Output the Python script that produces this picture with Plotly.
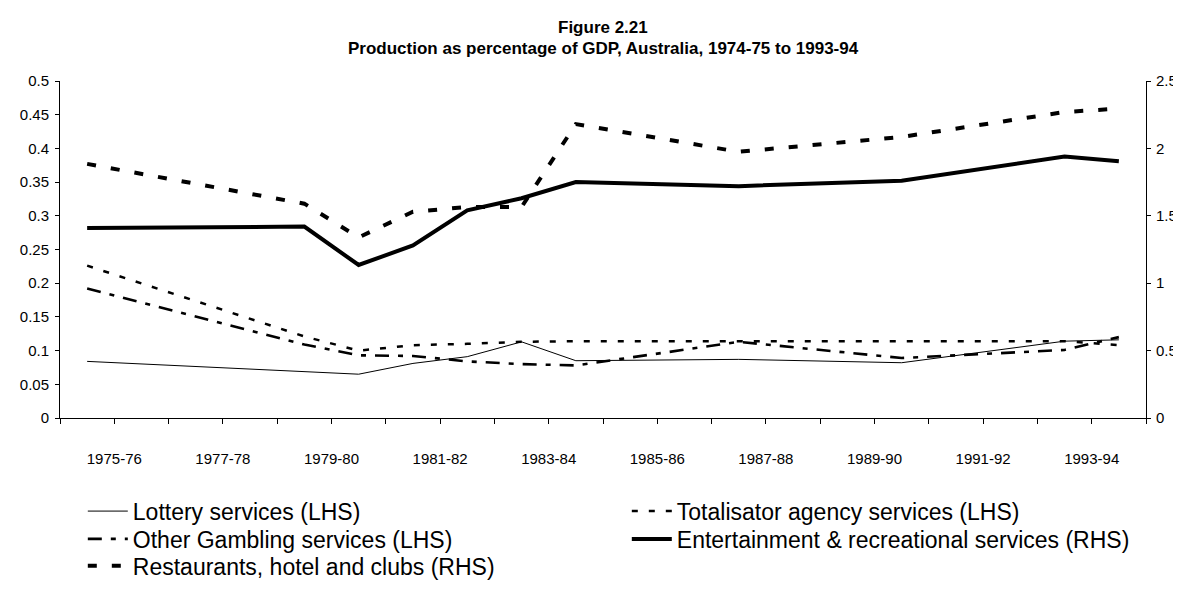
import plotly.graph_objects as go

# ---- data ----
years = ["1974-75", "1978-79", "1979-80", "1980-81", "1981-82", "1982-83",
         "1983-84", "1986-87", "1989-90", "1992-93", "1993-94"]
lottery = [0.084, 0.068, 0.065, 0.081, 0.091, 0.113, 0.085, 0.087, 0.082, 0.114, 0.116]
totalisator = [0.226, 0.121, 0.100, 0.108, 0.110, 0.113, 0.114, 0.114, 0.114, 0.114, 0.108]
other_gambling = [0.192, 0.109, 0.093, 0.092, 0.084, 0.080, 0.078, 0.113, 0.089, 0.101, 0.120]
entertainment = [1.41, 1.42, 1.135, 1.28, 1.54, 1.63, 1.75, 1.72, 1.76, 1.94, 1.905]
restaurants = [1.885, 1.59, 1.34, 1.53, 1.565, 1.565, 2.18, 1.975, 2.085, 2.27, 2.295]
tick_labels = ["1975-76", "1977-78", "1979-80", "1981-82", "1983-84",
               "1985-86", "1987-88", "1989-90", "1991-92", "1993-94"]
title_line1 = "Figure 2.21"
title_line2 = "Production as percentage of GDP, Australia, 1974-75 to 1993-94"

BASE = 1974
def pos_point(y):
    return int(y[:4]) - BASE + 0.5
def pos_tick(y):
    return int(y[:4]) - BASE

xp = [pos_point(y) for y in years]
FONT = "Arial, Liberation Sans, sans-serif"

fig = go.Figure()
fig.add_trace(go.Scatter(x=xp, y=lottery, name="Lottery services (LHS)", mode="lines",
                         line=dict(color="black", width=1), legend="legend"))
fig.add_trace(go.Scatter(x=xp, y=totalisator, name="Totalisator agency services (LHS)", mode="lines",
                         line=dict(color="black", width=2.5, dash="6px,11px"), legend="legend"))
fig.add_trace(go.Scatter(x=xp, y=other_gambling, name="Other Gambling services (LHS)", mode="lines",
                         line=dict(color="black", width=2.6, dash="14px,9px,5px,9px"), legend="legend2"))
fig.add_trace(go.Scatter(x=xp, y=entertainment, name="Entertainment & recreational services (RHS)",
                         mode="lines", yaxis="y2", line=dict(color="black", width=4), legend="legend2"))
fig.add_trace(go.Scatter(x=xp, y=restaurants, name="Restaurants, hotel and clubs (RHS)",
                         mode="lines", yaxis="y2", line=dict(color="black", width=4, dash="9px,15px"),
                         legend="legend3"))

PLOT_TOP, PLOT_BOTTOM = 73, 424
def py(p):
    return (PLOT_BOTTOM - p) / (PLOT_BOTTOM - PLOT_TOP)

def leg(row_y):
    return dict(orientation="h", x=0.021, xanchor="left", y=py(row_y), yanchor="middle",
                font=dict(size=23, family=FONT, color="black"), entrywidth=489, entrywidthmode="pixels",
                traceorder="normal", bgcolor="rgba(0,0,0,0)", itemwidth=40)

fig.update_layout(
    width=1181, height=592,
    paper_bgcolor="white", plot_bgcolor="white",
    margin=dict(l=50, r=38, t=PLOT_TOP, b=592 - PLOT_BOTTOM),
    font=dict(family=FONT, color="black", size=15),
    xaxis=dict(range=[0, 20], tickmode="array",
               tickvals=[pos_tick(t) for t in tick_labels], ticktext=tick_labels,
               showline=True, linecolor="black", linewidth=1, ticks="outside", ticklen=5,
               tickcolor="black", showgrid=False, zeroline=False, fixedrange=True,
               tickfont=dict(size=15), ticklabelstandoff=22,
               minor=dict(dtick=1, tick0=0, ticks="outside", ticklen=5, tickcolor="black", showgrid=False)),
    yaxis=dict(range=[0, 0.5], dtick=0.05, tick0=0, showline=True, linecolor="black", linewidth=1,
               ticks="outside", ticklen=4, tickcolor="black", showgrid=False, zeroline=False,
               tickfont=dict(size=15), ticklabelstandoff=3),
    yaxis2=dict(range=[0, 2.5], dtick=0.5, tick0=0, overlaying="y", side="right", showline=True,
                linecolor="black", linewidth=1, ticks="outside", ticklen=4, tickcolor="black",
                showgrid=False, zeroline=False, tickfont=dict(size=15), ticklabelstandoff=2),
    legend=leg(521), legend2=leg(550), legend3=leg(578),
    showlegend=True,
    annotations=[
        dict(text="<b>" + title_line1 + "</b>", xref="paper", yref="paper", x=0.5, y=py(17),
             xanchor="center", yanchor="middle", showarrow=False, font=dict(size=17, family=FONT)),
        dict(text="<b>" + title_line2 + "</b>", xref="paper", yref="paper", x=0.5, y=py(39),
             xanchor="center", yanchor="middle", showarrow=False, font=dict(size=17, family=FONT)),
    ],
)

fig.write_html("out.html")
